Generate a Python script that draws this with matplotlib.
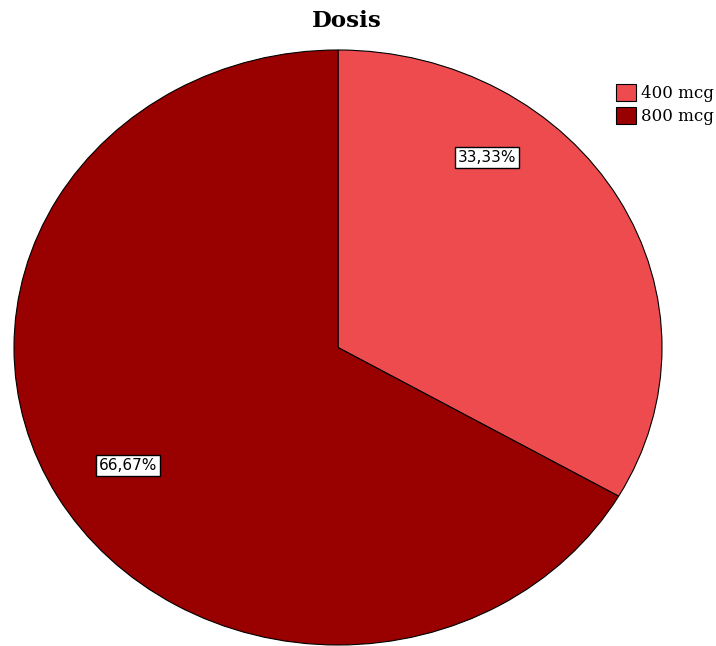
import matplotlib.pyplot as plt

labels = ['400 mcg', '800 mcg']
shares = [33.33, 66.67]
colors = ['#ee4b4f', '#990000']

fig = plt.figure(figsize=(7.16, 6.46), dpi=100)
ax = fig.add_axes([14 / 716, 1 / 646, 648 / 716, 595 / 646])

wedges, _ = ax.pie(shares, colors=colors, startangle=90, counterclock=False,
                   wedgeprops=dict(edgecolor='black', linewidth=0.8))
ax.set_aspect('auto')
ax.set_xlim(-1, 1)
ax.set_ylim(-1, 1)

# percentage boxes inside each slice
label_pos = [(0.46, 0.64), (-0.648, -0.397)]
for val, (x, y) in zip(shares, label_pos):
    txt = f'{val:.2f}%'.replace('.', ',')
    ax.text(x, y, txt, ha='center', va='center', fontsize=11,
            bbox=dict(boxstyle='square,pad=0.2', facecolor='white',
                      edgecolor='black', linewidth=1))

fig.text(347 / 716, 1 - 21 / 646, 'Dosis', ha='center', va='center',
         fontsize=16.5, fontweight='bold', family='DejaVu Serif')

fig.legend(wedges, labels, loc='upper left', bbox_to_anchor=(616 / 716, 1 - 84 / 646),
           frameon=False, prop=dict(family='DejaVu Serif', size=12),
           handlelength=1.2, handleheight=1.2, handletextpad=0.3,
           labelspacing=0.3, borderpad=0, borderaxespad=0)

fig.savefig('out.png', dpi=100)
